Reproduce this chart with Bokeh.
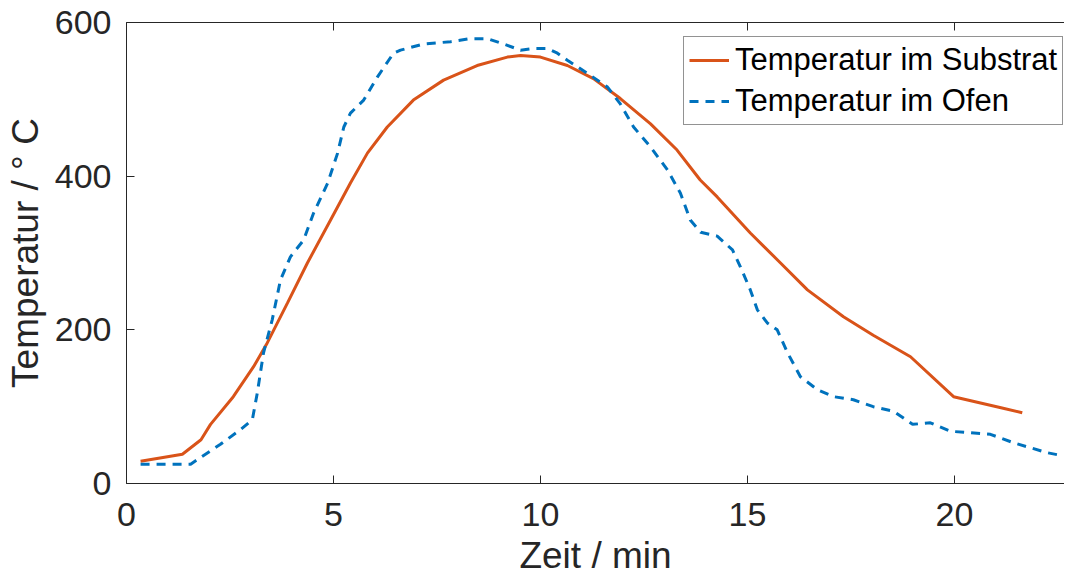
from bokeh.plotting import figure
from bokeh.models import Range1d, LinearAxis, FixedTicker, Legend, LegendItem
from bokeh.embed import file_html
from bokeh.resources import INLINE

# Data
substrat_x = [0.34, 1.35, 1.8, 2.03, 2.58, 3.07, 3.4, 3.89, 4.37, 4.93, 5.41, 5.82, 6.3, 6.93, 7.66,
              8.47, 9.2, 9.52, 10.0, 10.65, 11.28, 11.93, 12.66, 13.3, 13.86, 14.27, 15.07, 15.8,
              16.45, 17.32, 18.04, 18.94, 19.98, 21.1, 21.64]
substrat_y = [29, 38, 57, 77, 113, 152, 183, 235, 287, 343, 391, 430, 464, 499, 525,
              544, 555, 557, 555, 544, 527, 501, 468, 434, 395, 373, 326, 287,
              252, 217, 193, 165, 113, 99, 92]

ofen_x = [0.34, 1.55, 1.79, 2.27, 2.75, 3.04, 3.16, 3.31, 3.52, 3.72, 3.96, 4.28, 4.52, 4.86, 5.1,
          5.25, 5.41, 5.73, 6.06, 6.45, 6.62, 7.17, 7.83, 8.3, 8.72, 9.11, 9.52, 9.83, 10.17,
          10.41, 10.65, 11.13, 11.62, 11.93, 12.25, 12.66, 13.07, 13.38, 13.62, 13.87, 14.27,
          14.64, 14.83, 15.07, 15.24, 15.48, 15.72, 15.97, 16.28, 16.69, 17.08, 17.56, 18.04,
          18.53, 18.99, 19.42, 19.9, 20.39, 20.87, 21.43, 22.25, 22.63]
ofen_y = [25, 25, 34, 51, 70, 83, 118, 170, 213, 265, 295, 317, 352, 391, 430,
          464, 482, 499, 529, 560, 564, 572, 575, 579, 579, 572, 564, 566, 566,
          560, 551, 534, 516, 494, 464, 438, 408, 378, 343, 327, 322,
          304, 282, 252, 226, 209, 200, 170, 139, 122, 113, 109, 100,
          94, 77, 79, 68, 66, 64, 53, 40, 36]

x_ticks = [0, 5, 10, 15, 20]
y_ticks = [0, 200, 400, 600]
series_names = ["Temperatur im Substrat", "Temperatur im Ofen"]
x_label = "Zeit / min"
y_label = "Temperatur / \u00b0 C"

AX = "#262626"
FONT = "Liberation Sans"

p = figure(width=1064, height=578, output_backend="svg", toolbar_location=None,
           x_range=Range1d(0, 22.66), y_range=Range1d(0, 600),
           x_axis_location=None, y_axis_location=None,
           min_border_left=126, min_border_right=0, min_border_top=22, min_border_bottom=90)
p.outline_line_color = None
p.grid.visible = False
p.background_fill_color = "white"


def style_axis(ax, ticks, show_labels=True):
    ax.ticker = FixedTicker(ticks=ticks)
    ax.axis_line_color = AX
    ax.axis_line_width = 1
    ax.major_tick_line_color = AX
    ax.major_tick_in = 8
    ax.major_tick_out = 0
    ax.minor_tick_line_color = None
    ax.major_label_text_font = FONT
    ax.major_label_text_font_size = "34px"
    ax.major_label_text_color = AX
    ax.axis_label_text_font = FONT
    ax.axis_label_text_font_size = "37px"
    ax.axis_label_text_font_style = "normal"
    ax.axis_label_text_color = AX
    if not show_labels:
        ax.major_label_text_font_size = "0px"
        ax.major_label_text_color = None


xb = LinearAxis(axis_label=x_label)
xt = LinearAxis()
yl = LinearAxis(axis_label=y_label)
style_axis(xb, x_ticks)
style_axis(xt, x_ticks, show_labels=False)
style_axis(yl, y_ticks)
xb.major_label_standoff = 19
xb.axis_label_standoff = 6
yl.major_label_standoff = 15
yl.axis_label_standoff = 6
xt.major_label_standoff = 0
p.add_layout(xb, "below")
p.add_layout(xt, "above")
p.add_layout(yl, "left")

r1 = p.line(substrat_x, substrat_y, line_color="#D95319", line_width=3)
r2 = p.line(ofen_x, ofen_y, line_color="#0072BD", line_width=3, line_dash="9 7")

legend = Legend(items=[LegendItem(label=series_names[0], renderers=[r1]),
                       LegendItem(label=series_names[1], renderers=[r2])],
                location=(557, 358))
legend.label_text_font = FONT
legend.label_text_font_size = "31px"
legend.label_text_color = "black"
legend.border_line_color = AX
legend.border_line_width = 1
legend.background_fill_color = "white"
legend.background_fill_alpha = 1
legend.glyph_width = 40
legend.glyph_height = 36
legend.label_height = 36
legend.label_standoff = 6
legend.spacing = 5
legend.padding = 5
legend.margin = 0
p.add_layout(legend, "center")

open("out.html", "w").write(file_html(p, INLINE))
